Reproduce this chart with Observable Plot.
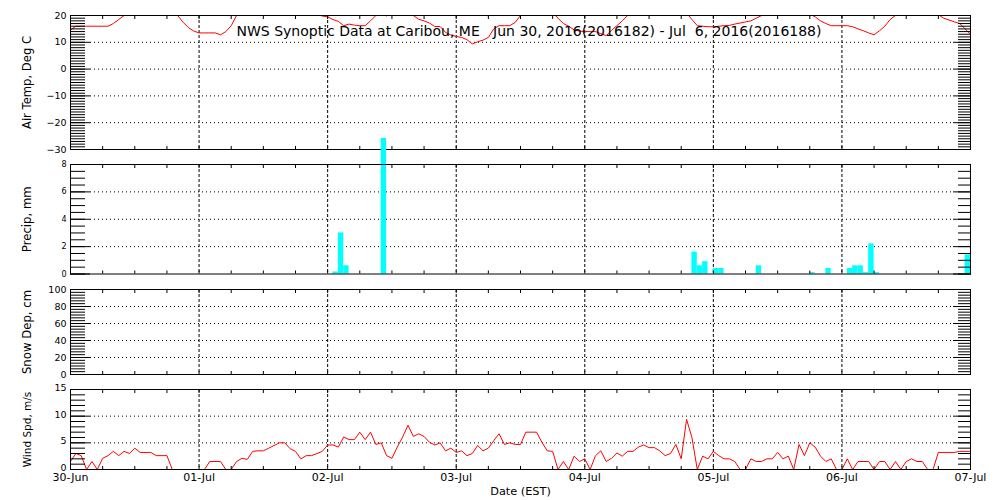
<!DOCTYPE html>
<html><head><meta charset="utf-8">
<script src="https://cdn.jsdelivr.net/npm/d3@7"></script>
<script src="https://cdn.jsdelivr.net/npm/@observablehq/plot@0.6"></script>
<style>
body{margin:0;background:#fff;}
#chart{position:relative;width:1000px;height:500px;overflow:hidden;background:#fff;}
#chart svg{position:absolute;left:0;top:0;}
#title{position:absolute;left:29px;top:24px;width:1000px;text-align:center;font-family:"DejaVu Sans";font-size:14px;line-height:14px;white-space:pre;z-index:5;color:#000;}
</style></head><body>
<div id="chart"><div id="title"></div></div>
<script>
const titleText = "NWS Synoptic Data at Caribou, ME   Jun 30, 2016(2016182) - Jul  6, 2016(2016188)";
const dayLabels = ["30-Jun","01-Jul","02-Jul","03-Jul","04-Jul","05-Jul","06-Jul","07-Jul"];
const xTitle = "Date (EST)";

// Air temperature, hourly from 30-Jun 00:00 (index = hour)
const tempValues = [14.6,16,16,16,16,16,16,16,17,18.5,20,21.5,23,24,25,25.5,25,24,23,21.5,
  20,17.5,15.5,14.2,13.5,13.5,13.5,13.5,12.8,14,16.2,20,21.5,23,24.5,25.5,26.5,27,27.5,27.5,
  27,26,25,24,22.5,21.5,20.5,19.8,19.5,18.5,17.8,16.2,16.8,16.4,16.2,16.2,18,20,21,19.8,
  21,22,21.5,21,20,18.6,18,17.2,15.9,15.9,13.7,12.7,12.2,11.8,11,9.4,10.2,10.8,11.8,15,
  16.2,16.2,16.2,17.4,20,21.5,22.5,23,23,22,21,19,17,16,14.6,14.2,14,14,14,13.2,
  12.5,14.5,16.2,18,20,21.5,23,24,25,25.5,25.5,25,24,23,22,21,18.5,16.2,16,15.8,
  15.8,16,16.2,16.3,16.8,17.2,17.6,18,19,20,21.5,23,24,24.5,24.5,24,23,21.5,20.5,19.5,
  18,17,16.2,16.2,16.2,16.2,15.8,15,14.3,13.5,12.8,14.3,16,18.5,20,21.5,23,24,24.5,24.5,
  23.5,22.5,20.3,19,18.3,17.6,17,15,13];

// Hourly precipitation (hour start, mm)
const precipHours  = [49,50,51,58,116,117,118,120,121,128,138,141,145,146,147,148,149,150,167];
const precipValues = [0.15,3.0,0.6,9.9,1.6,0.6,0.9,0.4,0.4,0.6,0.1,0.4,0.4,0.6,0.6,0.1,2.2,0.1,1.4];

// Snow depth: no observations
const snowHours = [];
const snowValues = [];

// Wind speed (hour, m/s)
const windHours = [0,1,2,3,4,5,6,7,8,9,10,11,12,13,15,16,18,19,25,26,28,29,30,31,32,33,34,35,36,37,38,39,40,41,42,43,44,45,46,47,
  48,49,50,51,52,53,54,55,56,57,58,59,60,61,62,63,64,65,66,67,68,69,70,71,72,73,74,75,76,77,78,79,80,81,82,83,84,85,87,88,
  89,90,91,92,93,94,95,96,97,98,99,100,101,102,103,104,105,106,107,108,109,110,111,112,113,114,115,116,117,118,119,120,121,122,123,124,125,126,127,128,
  129,130,131,132,133,134,135,136,137,138,139,140,141,142,143,144,145,146,147,149,150,151,152,153,154,155,156,157,158,159,160,161,162,165,166,168];
const windValues = [1.5,3.0,2.6,0,1.5,0,2.1,2.6,3.4,2.6,3.4,3.0,4.0,3.2,3.2,2.6,2.6,0,0,1.5,1.5,0,0,1.5,2.1,1.9,3.4,3.5,3.5,4.0,4.5,5.0,5.0,3.9,3.4,2.0,2.6,2.6,3.0,3.4,
  4.6,4.6,4.2,6.1,5.6,5.6,7.0,5.6,7.0,4.7,5.0,2.6,2.1,4.2,6.1,8.3,6.2,6.7,6.2,5.1,4.6,5.0,3.5,4.0,3.2,3.5,2.6,3.0,4.5,3.5,4.0,5.4,6.7,4.7,5.0,4.7,4.7,7.0,7.0,5.1,
  3.5,3.4,0,1.5,0,2.5,1.5,2.0,0,2.6,3.5,1.5,2.1,3.1,2.5,3.4,3.4,4.2,4.6,4.1,4.1,3.5,2.6,3.0,4.7,2.0,9.4,6.0,0,2.5,2.0,3.4,2.6,2.0,2.0,1.5,0,0,2.0,1.5,
  1.5,2.0,2.0,3.2,2.0,2.5,0,4.7,2.6,5.0,4.2,2.5,1.5,2.0,0,0,2.0,0,1.5,1.5,0,1.5,1.5,0,1.5,0,1.5,2.0,1.5,1.5,0,0,3.2,3.2,3.4,3.4];

const t0 = Date.UTC(2016, 5, 30);
const HOUR = 3600e3;
const toDate = h => new Date(t0 + h * HOUR);
const xDomain = [toDate(0), toDate(168)];
const dayTicks = dayLabels.map((_, i) => toDate(i * 24));
const sixHourTicks = d3.range(0, 169, 6).map(toDate);
const dayFormat = d => dayLabels[Math.round((d - t0) / (24 * HOUR))];
const numFmt = d3.format("d");

const tempData = tempValues.map((v, h) => ({t: toDate(h), v}));
const precipData = precipHours.map((h, i) => ({t1: toDate(h), t2: toDate(h + 1), v: precipValues[i]}));
const snowData = snowHours.map((h, i) => ({t: toDate(h), v: snowValues[i]}));
const windData = windHours.map((h, i) => ({t: toDate(h), v: windValues[i]}));

const blank = () => "";

function panel({top, bottom, domain, major, minor, grid, fontSize, labelDy = 0, label, labelSize, marks, bottomLabels}) {
  return Plot.plot({
    width: 1000, height: 500,
    marginLeft: 70, marginRight: 30, marginTop: top, marginBottom: 500 - bottom,
    style: {background: "transparent", overflow: "visible", fontFamily: "DejaVu Sans", color: "black"},
    x: {type: "utc", domain: xDomain},
    y: {domain},
    marks: [
      Plot.gridY(grid, {stroke: "black", strokeOpacity: 1, strokeDasharray: "1,3", insetLeft: 20, insetRight: 18}),
      Plot.gridX(dayTicks.slice(1, -1), {stroke: "black", strokeOpacity: 1, strokeDasharray: "3,2"}),
      ...marks,
      Plot.axisY(minor, {anchor: "left", tickSize: -15, tickFormat: blank, label: null}),
      Plot.axisY(major, {anchor: "left", tickSize: -20, tickFormat: blank, label: null}),
      Plot.axisY(major, {anchor: "left", tickSize: 0, tickPadding: 4, dy: labelDy, tickFormat: numFmt, fontSize, label: null}),
      Plot.axisY(minor, {anchor: "right", tickSize: -13, tickFormat: blank, label: null}),
      Plot.axisY(major, {anchor: "right", tickSize: -18, tickFormat: blank, label: null}),
      Plot.axisX(sixHourTicks, {anchor: "bottom", tickSize: -3, tickFormat: blank, label: null}),
      Plot.axisX(sixHourTicks, {anchor: "top", tickSize: -3, tickFormat: blank, label: null}),
      ...(bottomLabels ? [
        Plot.axisX(dayTicks, {anchor: "bottom", tickSize: 0, tickPadding: 3.5, tickFormat: dayFormat, fontSize: 11, label: null}),
        Plot.text([xTitle], {frameAnchor: "bottom", lineAnchor: "top", dy: 17, fontSize: 11.3})
      ] : []),
      Plot.text([label], {frameAnchor: "left", textAnchor: "middle", lineAnchor: "middle", rotate: -90, dx: -43, fontSize: labelSize}),
      Plot.frame({stroke: "black"})
    ]
  });
}

const chart = document.getElementById("chart");
document.getElementById("title").textContent = titleText;

chart.append(panel({
  top: 15, bottom: 149, domain: [-30, 20],
  major: [-30, -20, -10, 0, 10, 20], minor: d3.range(-30, 21, 1), grid: [-20, -10, 0, 10],
  fontSize: 9.5, label: "Air Temp, Deg C", labelSize: 11.6,
  marks: [Plot.line(tempData, {x: "t", y: "v", stroke: "#ff0000", strokeWidth: 1, clip: true})]
}));

chart.append(panel({
  top: 164, bottom: 273.5, domain: [0, 8],
  major: [0, 2, 4, 6, 8], minor: d3.range(0, 8.01, 0.5), grid: [2, 4, 6],
  fontSize: 8, label: "Precip, mm", labelSize: 11.7,
  marks: [Plot.rectY(precipData, {x1: "t1", x2: "t2", y: "v", fill: "#00ffff"})]
}));

chart.append(panel({
  top: 289, bottom: 374, domain: [0, 100],
  major: [0, 20, 40, 60, 80, 100], minor: d3.range(0, 100.01, 20 / 6), grid: [20, 40, 60, 80],
  fontSize: 9.5, label: "Snow Dep, cm", labelSize: 11.7,
  marks: [Plot.line(snowData, {x: "t", y: "v", stroke: "#ff0000"})]
}));

chart.append(panel({
  top: 389, bottom: 469, domain: [0, 15],
  major: [0, 5, 10, 15], minor: d3.range(0, 15.01, 1), grid: [5, 10],
  fontSize: 9.5, labelDy: -1.5, label: "Wind Spd, m/s", labelSize: 10.5, bottomLabels: true,
  marks: [Plot.line(windData, {x: "t", y: "v", stroke: "#ff0000", strokeWidth: 1})]
}));

// keep title on top
chart.append(document.getElementById("title"));
</script>
</body></html>
